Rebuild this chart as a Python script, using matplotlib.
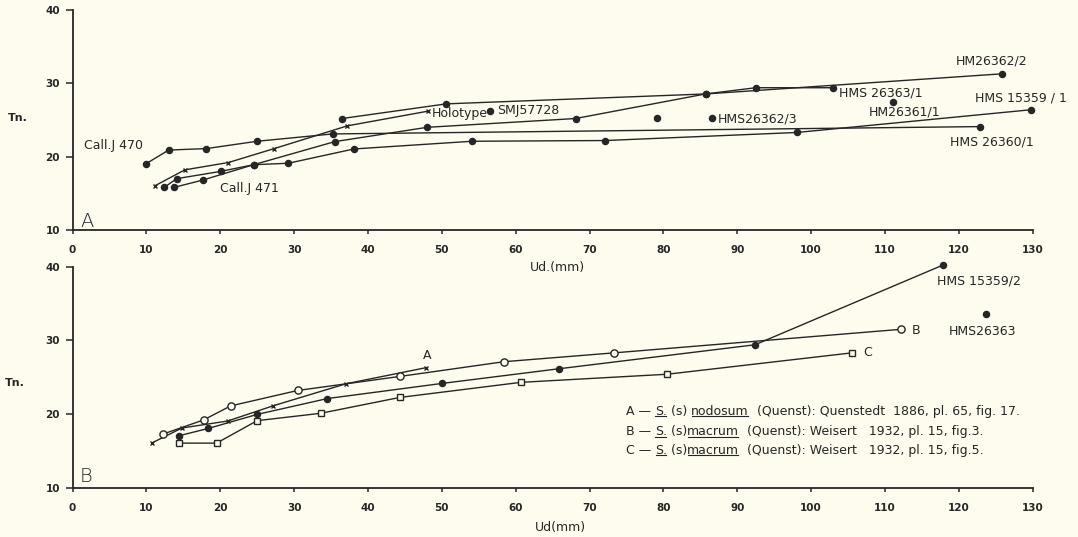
import matplotlib
matplotlib.use('Agg')
import matplotlib.pyplot as plt
from matplotlib import transforms
from matplotlib.lines import Line2D

# ---------------- data: panel A ----------------
calj470_x = [9.9, 13.0, 18.1, 25.0, 35.2, 122.9]
calj470_y = [19.0, 20.9, 21.1, 22.1, 23.1, 24.1]
holotype_x = [11.1, 15.2, 21.1, 27.3, 37.2, 48.1]
holotype_y = [16.0, 18.2, 19.2, 21.1, 24.2, 26.2]
hm26362_2_x = [36.5, 50.6, 85.7, 125.9]
hm26362_2_y = [25.2, 27.2, 28.55, 31.3]
hms26363_1_x = [12.4, 14.1, 20.1, 24.5, 35.5, 48.0, 68.1, 85.7, 92.5, 103.0]
hms26363_1_y = [15.8, 17.0, 18.0, 18.9, 22.05, 24.0, 25.2, 28.55, 29.4, 29.4]
hms15359_1_x = [13.7, 17.6, 24.5, 29.2, 38.1, 54.1, 72.1, 98.1, 129.8]
hms15359_1_y = [15.8, 16.8, 18.9, 19.1, 21.05, 22.1, 22.2, 23.3, 26.4]
single_a_x = [56.5, 79.1, 86.6, 111.1]
single_a_y = [26.2, 25.3, 25.3, 27.5]

labels_a = [
    ("Call.J 470", 1.5, 21.5),
    ("Call.J 471", 19.9, 15.6),
    ("Holotype", 48.6, 25.9),
    ("SMJ57728", 57.5, 26.3),
    ("HMS26362/3", 87.3, 25.2),
    ("HM26362/2", 119.6, 33.0),
    ("HMS 26363/1", 103.8, 28.65),
    ("HMS 15359 / 1", 122.2, 28.0),
    ("HM26361/1", 107.8, 26.05),
    ("HMS 26360/1", 118.8, 22.05),
]

# ---------------- data: panel B ----------------
nodosum_x = [10.8, 14.8, 21.0, 27.1, 37.0, 47.9]
nodosum_y = [16.1, 18.1, 19.05, 21.1, 24.1, 26.3]
macrum3_x = [12.3, 17.75, 21.4, 30.5, 44.3, 58.4, 73.3, 112.2]
macrum3_y = [17.3, 19.2, 21.1, 23.2, 25.1, 27.1, 28.3, 31.5]
hms15359_2_x = [14.4, 18.4, 25.0, 34.5, 50.0, 65.9, 92.4, 117.8]
hms15359_2_y = [17.05, 18.05, 19.95, 22.1, 24.15, 26.15, 29.4, 40.2]
macrum5_x = [14.4, 19.5, 25.0, 33.6, 44.3, 60.7, 80.5, 105.5]
macrum5_y = [16.05, 16.05, 19.1, 20.1, 22.25, 24.3, 25.4, 28.3]
single_b_x = [123.7]
single_b_y = [33.6]

labels_b = [
    ("A", 47.4, 27.9),
    ("B", 113.6, 31.4),
    ("C", 107.1, 28.35),
    ("HMS 15359/2", 117.0, 38.0),
    ("HMS26363", 118.6, 31.2),
]

legend_lines = [
    [("A \u2014 ", False), ("S.", True), (" (s) ", False), ("nodosum", True),
     ("  (Quenst): Quenstedt  1886, pl. 65, fig. 17.", False)],
    [("B \u2014 ", False), ("S.", True), (" (s)", False), ("macrum", True),
     ("  (Quenst): Weisert   1932, pl. 15, fig.3.", False)],
    [("C \u2014 ", False), ("S.", True), (" (s)", False), ("macrum", True),
     ("  (Quenst): Weisert   1932, pl. 15, fig.5.", False)],
]
legend_x = 74.9
legend_y = [20.35, 17.6, 15.05]

xticks = list(range(0, 131, 10))
yticks = [10, 20, 30, 40]

BG = '#fdfcef'
INK = '#262626'
plt.rcParams['font.family'] = ['DejaVu Sans']

fig = plt.figure(figsize=(10.78, 5.37), dpi=100, facecolor=BG)
ax1 = fig.add_axes([0.0673, 0.5717, 0.8907, 0.4097])
ax2 = fig.add_axes([0.0673, 0.0918, 0.8907, 0.4116])


def style(ax):
    ax.set_facecolor('none')
    ax.set_xlim(0, 130)
    ax.set_ylim(10, 40)
    for s in ['top', 'right']:
        ax.spines[s].set_visible(False)
    for s in ['left', 'bottom']:
        ax.spines[s].set_linewidth(1.3)
        ax.spines[s].set_color(INK)
    ax.set_xticks(xticks)
    ax.set_yticks(yticks)
    ax.tick_params(axis='y', direction='out', length=5, width=1.1, pad=4,
                   labelsize=7.5, colors=INK)
    ax.tick_params(axis='x', direction='out', length=3, width=1.1, pad=8,
                   labelsize=7.5, colors=INK)
    for lab in ax.get_xticklabels() + ax.get_yticklabels():
        lab.set_fontweight('bold')


style(ax1)
style(ax2)

lw = 1.0
dot = dict(marker='o', ms=4.4, mfc=INK, mec=INK, color=INK, lw=lw, clip_on=False)
cross = dict(marker='x', ms=3.0, mew=1.0, mec=INK, color=INK, lw=lw, clip_on=False)
dot_only = {k: v for k, v in dot.items() if k != 'lw'}

# panel A
ax1.plot(calj470_x, calj470_y, **dot)
ax1.plot(hm26362_2_x, hm26362_2_y, **dot)
ax1.plot(hms26363_1_x, hms26363_1_y, **dot)
ax1.plot(hms15359_1_x, hms15359_1_y, **dot)
ax1.plot(holotype_x, holotype_y, **cross)
ax1.plot(single_a_x, single_a_y, ls='none', **dot_only)
for s, x, y in labels_a:
    ax1.text(x, y, s, ha='left', va='center', fontsize=9, color=INK)
ax1.text(1.0, 11.2, 'A', ha='left', va='center', fontsize=14, color=INK,
         fontweight='light')

# panel B
ax2.plot(nodosum_x, nodosum_y, **cross)
ax2.plot(macrum3_x, macrum3_y, marker='o', ms=5.2, mfc=BG, mec=INK, mew=1.0,
         color=INK, lw=lw, clip_on=False)
ax2.plot(hms15359_2_x, hms15359_2_y, **dot)
ax2.plot(macrum5_x, macrum5_y, marker='s', ms=4.4, mfc=BG, mec=INK, mew=1.0,
         color=INK, lw=lw, clip_on=False)
ax2.plot(single_b_x, single_b_y, ls='none', **dot_only)
for s, x, y in labels_b:
    ax2.text(x, y, s, ha='left', va='center', fontsize=9, color=INK)
ax2.text(1.0, 11.5, 'B', ha='left', va='center', fontsize=14, color=INK,
         fontweight='light')

# legend text with underlines
renderer = fig.canvas.get_renderer()
W, H = fig.bbox.width, fig.bbox.height
for pieces, ly in zip(legend_lines, legend_y):
    x0_disp = ax2.transData.transform((legend_x, ly))[0]
    offset = 0.0
    for s, ul in pieces:
        tr = transforms.offset_copy(ax2.transData, fig=fig, x=offset, y=0, units='dots')
        t = ax2.text(legend_x, ly, s, transform=tr, ha='left', va='center',
                     fontsize=9, color=INK)
        bb = t.get_window_extent(renderer=renderer)
        if ul:
            yy = bb.y0 + 1.5
            fig.add_artist(Line2D([(bb.x0 + 0.5) / W, (bb.x1 - 1) / W], [yy / H, yy / H],
                                  transform=fig.transFigure, color=INK, lw=0.8))
        offset = bb.x1 - x0_disp

# axis titles
fig.text(18 / 1078, 1 - 118 / 537, 'Tn.', ha='center', va='center', fontsize=8,
         color=INK, fontweight='bold')
fig.text(15 / 1078, 1 - 383 / 537, 'Tn.', ha='center', va='center', fontsize=8,
         color=INK, fontweight='bold')
fig.text(557 / 1078, 1 - 268 / 537, 'Ud.(mm)', ha='center', va='center',
         fontsize=9, color=INK)
fig.text(560 / 1078, 1 - 528 / 537, 'Ud(mm)', ha='center', va='center',
         fontsize=9, color=INK)

fig.savefig('out.png', dpi=100, facecolor=BG)
